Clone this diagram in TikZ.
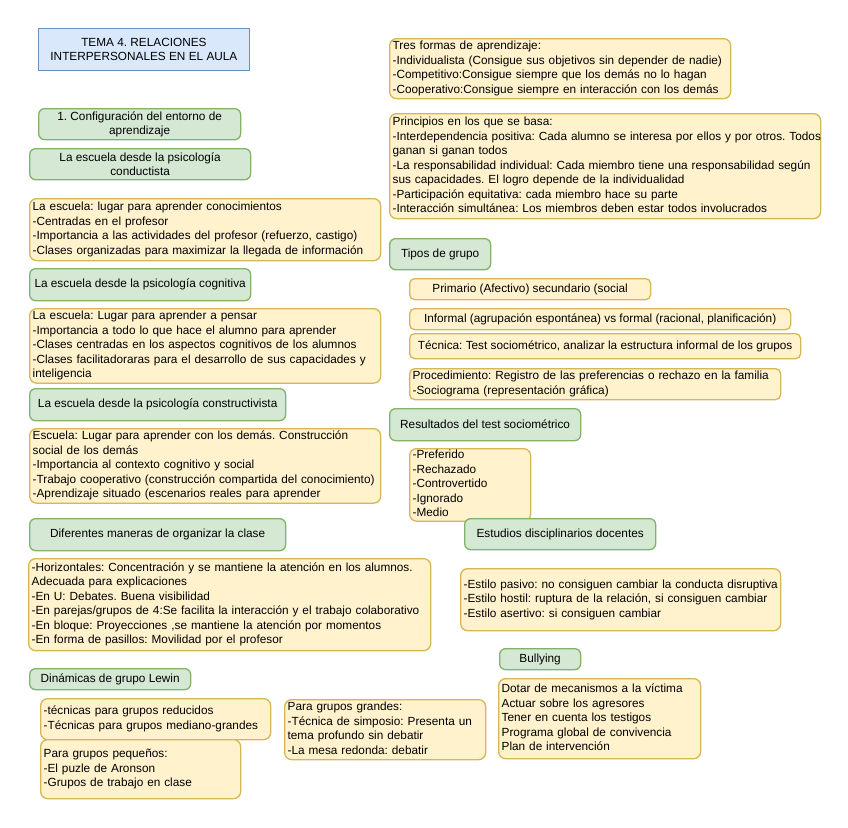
\documentclass[tikz,border=0pt]{standalone}
\usepackage{fontspec}
\setmainfont{Liberation Sans}
\definecolor{yfill}{HTML}{FFF2CC}
\definecolor{ystroke}{HTML}{D6B656}
\definecolor{gfill}{HTML}{D5E8D4}
\definecolor{gstroke}{HTML}{82B366}
\definecolor{bfill}{HTML}{DAE8FC}
\definecolor{bstroke}{HTML}{6C8EBF}
\newcommand\boxlines[1]{\begin{tabular}{@{}l@{}}#1\end{tabular}}
\tikzset{
  base/.style={anchor=north west, line width=1.3pt, inner xsep=3pt, inner ysep=1pt,
    font=\fontsize{11.8}{14.5}\selectfont\frenchspacing},
  ybox/.style={base, rounded corners=7pt, draw=ystroke, fill=yfill, align=left},
  yc/.style={base, rounded corners=5pt, draw=ystroke, fill=yfill, align=center},
  gbox/.style={base, rounded corners=6pt, draw=gstroke, fill=gfill, align=center},
  bbox/.style={base, line width=0.8pt, draw=bstroke, fill=bfill, align=center},
}
\begin{document}
\begin{tikzpicture}[x=1pt,y=-1pt]
\useasboundingbox (0,0) rectangle (848,827);
% left column
\node[bbox, minimum width=211pt, minimum height=42pt] (tema) at (38,28) {TEMA 4. RELACIONES\\INTERPERSONALES EN EL AULA};
\node[gbox, minimum width=202pt, minimum height=31pt] (config) at (38,108) {1. Configuración del entorno de\\aprendizaje};
\node[gbox, minimum width=221pt, minimum height=31pt] (hcond) at (29,148) {La escuela desde la psicología\\conductista};
\node[ybox, text width=345pt, minimum height=62pt] (cond) at (29,198) {\boxlines{La escuela: lugar para aprender conocimientos\\-Centradas en el profesor\\-Importancia a las actividades del profesor (refuerzo, castigo)\\-Clases organizadas para maximizar la llegada de información}};
\node[gbox, minimum width=221pt, minimum height=32pt] (hcog) at (29,268) {La escuela desde la psicología cognitiva};
\node[ybox, text width=345pt, minimum height=70pt] (cog) at (29,308) {\boxlines{La escuela: Lugar para aprender a pensar\\-Importancia a todo lo que hace el alumno para aprender\\-Clases centradas en los aspectos cognitivos de los alumnos\\-Clases facilitadoraras para el desarrollo de sus capacidades y\\inteligencia}};
\node[gbox, minimum width=256pt, minimum height=32pt] (hcons) at (29,388) {La escuela desde la psicología constructivista};
\node[ybox, text width=345pt, minimum height=70pt] (cons) at (29,428) {\boxlines{Escuela: Lugar para aprender con los demás. Construcción\\social de los demás\\-Importancia al contexto cognitivo y social\\-Trabajo cooperativo (construcción compartida del conocimiento)\\-Aprendizaje situado (escenarios reales para aprender}};
\node[gbox, minimum width=256pt, minimum height=32pt] (horg) at (29,518) {Diferentes maneras de organizar la clase};
\node[ybox, text width=396pt, minimum height=92pt] (org) at (28,558) {\boxlines{-Horizontales: Concentración y se mantiene la atención en los alumnos.\\Adecuada para explicaciones\\-En U: Debates. Buena visibilidad\\-En parejas/grupos de 4:Se facilita la interacción y el trabajo colaborativo\\-En bloque: Proyecciones ,se mantiene la atención por momentos\\-En forma de pasillos: Movilidad por el profesor}};
\node[gbox, minimum width=161pt, minimum height=21pt] (hlewin) at (29,668) {Dinámicas de grupo Lewin};
\node[ybox, text width=224pt, minimum height=41pt] (tec) at (40,698) {\boxlines{-técnicas para grupos reducidos\\-Técnicas para grupos mediano-grandes}};
\node[ybox, text width=194pt, minimum height=59pt] (peq) at (40,739) {\boxlines{Para grupos pequeños:\\-El puzle de Aronson\\-Grupos de trabajo en clase}};
\node[ybox, text width=195pt, minimum height=59pt] (gran) at (284,699) {\boxlines{Para grupos grandes:\\-Técnica de simposio: Presenta un\\tema profundo sin debatir\\-La mesa redonda: debatir}};
% right column
\node[ybox, text width=335pt, minimum height=60pt] (formas) at (389,38) {\boxlines{Tres formas de aprendizaje:\\-Individualista (Consigue sus objetivos sin depender de nadie)\\-Competitivo:Consigue siempre que los demás no lo hagan\\-Cooperativo:Consigue siempre en interacción con los demás}};
\node[ybox, text width=425pt, minimum height=105pt] (princ) at (389,113) {\boxlines{Principios en los que se basa:\\-Interdependencia positiva: Cada alumno se interesa por ellos y por otros. Todos\\ganan si ganan todos\\-La responsabilidad individual: Cada miembro tiene una responsabilidad según\\sus capacidades. El logro depende de la individualidad\\-Participación equitativa: cada miembro hace su parte\\-Interacción simultánea: Los miembros deben estar todos involucrados}};
\node[gbox, minimum width=101pt, minimum height=31pt] (htipos) at (389,238) {Tipos de grupo};
\node[yc, minimum width=241pt, minimum height=21pt] (prim) at (409,278) {Primario (Afectivo) secundario (social};
\node[yc, minimum width=381pt, minimum height=21pt] (inf) at (409,308) {Informal (agrupación espontánea) vs formal (racional, planificación)};
\node[yc, minimum width=391pt, minimum height=25pt] (tecn) at (409,333) {Técnica: Test sociométrico, analizar la estructura informal de los grupos};
\node[ybox, rounded corners=5pt, text width=365pt, minimum height=31pt] (proc) at (409,368) {\boxlines{Procedimiento: Registro de las preferencias o rechazo en la familia\\-Sociograma (representación gráfica)}};
\node[gbox, minimum width=191pt, minimum height=32pt] (hres) at (389,408) {Resultados del test sociométrico};
\node[ybox, text width=115pt, minimum height=70pt, inner ysep=0pt] (res) at (409,448) {\boxlines{-Preferido\\-Rechazado\\-Controvertido\\-Ignorado\\-Medio}};
\node[gbox, minimum width=191pt, minimum height=31pt] (hest) at (464,518) {Estudios disciplinarios docentes};
\node[ybox, text width=314pt, minimum height=62pt] (est) at (460,568) {\boxlines{-Estilo pasivo: no consiguen cambiar la conducta disruptiva\\-Estilo hostil: ruptura de la relación, si consiguen cambiar\\-Estilo asertivo: si consiguen cambiar}};
\node[gbox, minimum width=81pt, minimum height=21pt] (hbul) at (499,648) {Bullying};
\node[ybox, text width=196pt, minimum height=80pt] (bul) at (498,678) {\boxlines{Dotar de mecanismos a la víctima\\Actuar sobre los agresores\\Tener en cuenta los testigos\\Programa global de convivencia\\Plan de intervención}};
\end{tikzpicture}
\end{document}
